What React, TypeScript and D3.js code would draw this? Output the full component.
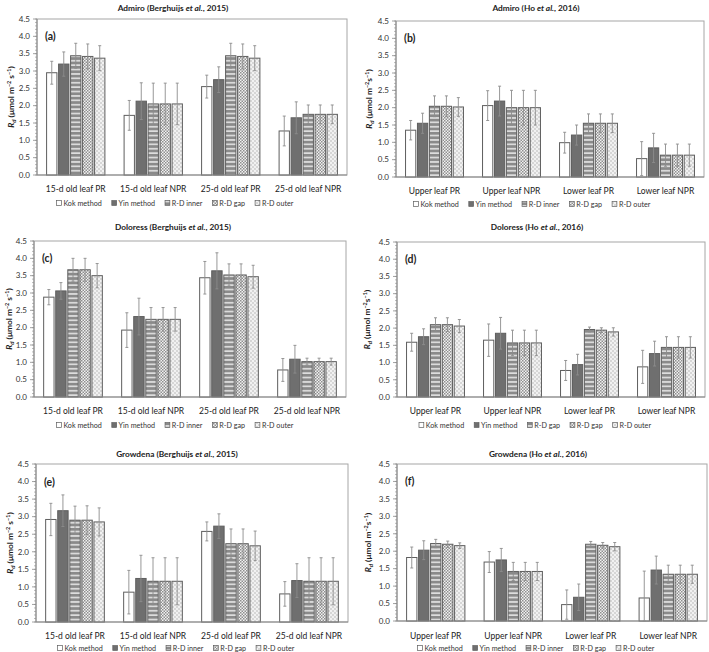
import React from 'react';
import * as d3 from 'd3';

const SERIES_STD = ['Kok method', 'Yin method', 'R-D inner', 'R-D gap', 'R-D outer'];
const SERIES_D = ['Kok method', 'Yin method', 'R-D gap', 'R-D gap', 'R-D outer'];
const CATS_BERG = ['15-d old leaf PR', '15-d old leaf NPR', '25-d old leaf PR', '25-d old leaf NPR'];
const CATS_HO = ['Upper leaf PR', 'Upper leaf NPR', 'Lower leaf PR', 'Lower leaf NPR'];
const Y_TICKS = [0, 0.5, 1, 1.5, 2, 2.5, 3, 3.5, 4, 4.5];

// means[series][category], errs[series][category]
const meansA = [
  [2.95, 1.72, 2.55, 1.27],
  [3.2, 2.13, 2.75, 1.65],
  [3.44, 2.05, 3.44, 1.75],
  [3.42, 2.05, 3.42, 1.75],
  [3.37, 2.05, 3.37, 1.75],
];
const errsA = [
  [0.33, 0.43, 0.33, 0.43],
  [0.35, 0.53, 0.37, 0.46],
  [0.36, 0.6, 0.36, 0.27],
  [0.36, 0.6, 0.36, 0.27],
  [0.36, 0.6, 0.36, 0.27],
];
const meansB = [
  [1.35, 2.06, 0.99, 0.53],
  [1.55, 2.19, 1.21, 0.84],
  [2.04, 2.0, 1.55, 0.63],
  [2.04, 2.0, 1.55, 0.63],
  [2.02, 2.0, 1.55, 0.63],
];
const errsB = [
  [0.28, 0.43, 0.3, 0.49],
  [0.29, 0.43, 0.29, 0.42],
  [0.3, 0.5, 0.27, 0.32],
  [0.3, 0.5, 0.27, 0.32],
  [0.27, 0.5, 0.27, 0.32],
];
const meansC = [
  [2.88, 1.93, 3.44, 0.78],
  [3.06, 2.32, 3.64, 1.09],
  [3.67, 2.24, 3.52, 1.02],
  [3.67, 2.24, 3.52, 1.02],
  [3.5, 2.24, 3.47, 1.02],
];
const errsC = [
  [0.22, 0.5, 0.47, 0.33],
  [0.24, 0.53, 0.52, 0.4],
  [0.33, 0.34, 0.32, 0.1],
  [0.33, 0.34, 0.32, 0.1],
  [0.35, 0.34, 0.33, 0.1],
];
const meansD = [
  [1.59, 1.65, 0.77, 0.875],
  [1.75, 1.85, 0.94, 1.26],
  [2.1, 1.57, 1.96, 1.44],
  [2.1, 1.57, 1.94, 1.44],
  [2.06, 1.57, 1.89, 1.44],
];
const errsD = [
  [0.26, 0.47, 0.29, 0.48],
  [0.23, 0.46, 0.3, 0.36],
  [0.2, 0.37, 0.07, 0.31],
  [0.2, 0.37, 0.07, 0.31],
  [0.19, 0.37, 0.12, 0.31],
];
const meansE = [
  [2.92, 0.85, 2.58, 0.8],
  [3.17, 1.24, 2.73, 1.18],
  [2.9, 1.16, 2.23, 1.16],
  [2.9, 1.16, 2.23, 1.16],
  [2.85, 1.16, 2.17, 1.16],
];
const errsE = [
  [0.46, 0.62, 0.27, 0.35],
  [0.45, 0.66, 0.35, 0.48],
  [0.4, 0.67, 0.42, 0.67],
  [0.41, 0.67, 0.42, 0.67],
  [0.4, 0.67, 0.42, 0.67],
];
const meansF = [
  [1.82, 1.69, 0.47, 0.66],
  [2.03, 1.75, 0.68, 1.46],
  [2.22, 1.42, 2.2, 1.34],
  [2.2, 1.42, 2.17, 1.34],
  [2.16, 1.42, 2.13, 1.34],
];
const errsF = [
  [0.3, 0.3, 0.42, 0.77],
  [0.27, 0.33, 0.38, 0.4],
  [0.12, 0.26, 0.08, 0.26],
  [0.09, 0.26, 0.08, 0.26],
  [0.08, 0.26, 0.12, 0.26],
];

const FONT = 'Lato, "Open Sans", sans-serif';
const FILLS = ['#ffffff', '#6f6f6f', 'url(#pInner)', 'url(#pGap)', 'url(#pOuter)'];
const LEG_FS = 7.2;

let measureCtx: CanvasRenderingContext2D | null = null;
function textW(s: string, fs: number): number {
  if (!measureCtx && typeof document !== 'undefined') {
    measureCtx = document.createElement('canvas').getContext('2d');
  }
  if (measureCtx) {
    measureCtx.font = `${fs}px Lato`;
    return measureCtx.measureText(s).width;
  }
  return s.length * fs * 0.5;
}

type PanelCfg = {
  label: string;
  cultivar: string;
  source: string;
  year: string;
  cats: string[];
  series: string[];
  means: number[][];
  errs: number[][];
  x0: number; x1: number; yTop: number; yBot: number;
  titleX: number; titleY: number; catY: number; legY: number; legX: number; ylabX: number;
  unitSpace: boolean;
};

const PANELS: PanelCfg[] = [
  { label: '(a)', cultivar: 'Admiro', source: 'Berghuijs', year: '2015', cats: CATS_BERG, series: SERIES_STD, means: meansA, errs: errsA,
    x0: 37, x1: 347, yTop: 19, yBot: 175, titleX: 173, titleY: 11, catY: 189, legY: 203, legX: 175, ylabX: 14, unitSpace: true },
  { label: '(b)', cultivar: 'Admiro', source: 'Ho', year: '2016', cats: CATS_HO, series: SERIES_STD, means: meansB, errs: errsB,
    x0: 396, x1: 704, yTop: 21, yBot: 177, titleX: 536, titleY: 11, catY: 191, legY: 204, legX: 532, ylabX: 372, unitSpace: false },
  { label: '(c)', cultivar: 'Doloress', source: 'Berghuijs', year: '2015', cats: CATS_BERG, series: SERIES_STD, means: meansC, errs: errsC,
    x0: 34, x1: 346, yTop: 241, yBot: 397, titleX: 173, titleY: 230, catY: 411, legY: 425, legX: 175, ylabX: 12, unitSpace: true },
  { label: '(d)', cultivar: 'Doloress', source: 'Ho', year: '2016', cats: CATS_HO, series: SERIES_D, means: meansD, errs: errsD,
    x0: 397, x1: 705, yTop: 242, yBot: 397, titleX: 537, titleY: 230, catY: 411, legY: 425, legX: 535, ylabX: 370, unitSpace: false },
  { label: '(e)', cultivar: 'Growdena', source: 'Berghuijs', year: '2015', cats: CATS_BERG, series: SERIES_STD, means: meansE, errs: errsE,
    x0: 36, x1: 348, yTop: 464, yBot: 622, titleX: 177, titleY: 457, catY: 636, legY: 648, legX: 176, ylabX: 13, unitSpace: true },
  { label: '(f)', cultivar: 'Growdena', source: 'Ho', year: '2016', cats: CATS_HO, series: SERIES_STD, means: meansF, errs: errsF,
    x0: 397, x1: 707, yTop: 464, yBot: 621, titleX: 538, titleY: 457, catY: 636, legY: 648, legX: 536, ylabX: 371, unitSpace: false },
];

function Panel({ p }: { p: PanelCfg }) {
  const y = d3.scaleLinear().domain([0, 4.5]).range([p.yBot, p.yTop]);
  const x = d3.scaleBand<string>().domain(p.cats).range([p.x0, p.x1]).paddingInner(0).paddingOuter(0);
  const xi = d3.scaleBand<number>().domain(d3.range(p.series.length)).range([0, x.bandwidth()]).paddingInner(0.14).paddingOuter(0.8);
  const minor = d3.range(0, 4.5001, 0.1);
  const axisCol = '#8a8a8a';
  const sw = 4.8;
  const widths = p.series.map((s) => sw + 2 + textW(s, LEG_FS) + 10);
  const total = d3.sum(widths) - 10;
  let lx = p.legX - total / 2;
  const legPos = widths.map((w) => { const v = lx; lx += w; return v; });
  const ymid = (p.yTop + p.yBot) / 2;
  return (
    <g>
      <text x={p.titleX} y={p.titleY} textAnchor="middle" fontSize={8.3} fontWeight={700} fontFamily={FONT} fill="#222">
        {p.cultivar} ({p.source} <tspan fontStyle="italic">et al.</tspan>, {p.year})
      </text>
      <rect x={p.x0} y={p.yTop} width={p.x1 - p.x0} height={p.yBot - p.yTop} fill="none" stroke="#a6a6a6" strokeWidth={1} />
      {minor.map((v, i) => (
        <line key={'mi' + i} x1={p.x0 - 2} x2={p.x0} y1={y(v)} y2={y(v)} stroke={axisCol} strokeWidth={0.6} />
      ))}
      {Y_TICKS.map((v) => (
        <g key={'t' + v}>
          <line x1={p.x0 - 4} x2={p.x0} y1={y(v)} y2={y(v)} stroke={axisCol} strokeWidth={0.8} />
          <text x={p.x0 - 7} y={y(v)} dy="0.35em" textAnchor="end" fontSize={8} fontFamily={FONT} fill="#333">
            {v.toFixed(1)}
          </text>
        </g>
      ))}
      <line x1={p.x0} x2={p.x0} y1={p.yTop} y2={p.yBot} stroke={axisCol} strokeWidth={1} />
      <text transform={`translate(${p.ylabX},${ymid}) rotate(-90)`} textAnchor="middle" fontSize={8.4} fontWeight={700} fontFamily={FONT} fill="#222">
        <tspan fontStyle="italic">R</tspan>
        <tspan fontStyle="italic" fontSize={6} dy={1.8}>d</tspan>
        <tspan dy={-1.8}> (μmol m</tspan>
        <tspan fontSize={5.5} dy={-3.2}>−2</tspan>
        <tspan dy={3.2}>{p.unitSpace ? ' s' : 's'}</tspan>
        <tspan fontSize={5.5} dy={-3.2}>−1</tspan>
        <tspan dy={3.2}>)</tspan>
      </text>
      <text x={p.x0 + 8} y={y(4.0) + 4} fontSize={10.5} fontWeight={700} fontFamily={FONT} fill="#222">{p.label}</text>
      {p.cats.map((c, ci) => (
        <g key={c}>
          {p.series.map((s, si) => {
            const v = p.means[si][ci];
            const e = p.errs[si][ci];
            const bx = (x(c) as number) + (xi(si) as number);
            const bw = xi.bandwidth();
            const cx = bx + bw / 2;
            const lo = Math.max(0, v - e);
            return (
              <g key={si}>
                <rect x={bx} y={y(v)} width={bw} height={y(0) - y(v)} fill={FILLS[si]} stroke="#5e5e5e" strokeWidth={1} />
                <line x1={cx} x2={cx} y1={y(v + e)} y2={y(lo)} stroke="#8c8c8c" strokeWidth={0.9} />
                <line x1={cx - 1.5} x2={cx + 1.5} y1={y(v + e)} y2={y(v + e)} stroke="#8c8c8c" strokeWidth={0.9} />
                <line x1={cx - 1.5} x2={cx + 1.5} y1={y(lo)} y2={y(lo)} stroke="#8c8c8c" strokeWidth={0.9} />
              </g>
            );
          })}
          <text x={(x(c) as number) + x.bandwidth() / 2} y={p.catY} dy="0.35em" textAnchor="middle" fontSize={8.5} fontFamily={FONT} fill="#222">
            {c}
          </text>
        </g>
      ))}
      <line x1={p.x0} x2={p.x1} y1={p.yBot} y2={p.yBot} stroke="#8a8a8a" strokeWidth={1.2} />
      {p.series.map((s, si) => (
        <g key={'l' + si}>
          <rect x={legPos[si]} y={p.legY - sw / 2} width={sw} height={sw} fill={FILLS[si]} stroke="#5e5e5e" strokeWidth={0.7} />
          <text x={legPos[si] + sw + 2} y={p.legY} dy="0.35em" fontSize={LEG_FS} fontFamily={FONT} fill="#333">{s}</text>
        </g>
      ))}
    </g>
  );
}

export default function App() {
  return (
    <svg width={709} height={652} viewBox="0 0 709 652" style={{ display: 'block', position: 'absolute', left: 0, top: 0, background: '#fff' }}>
      <defs>
        <pattern id="pInner" patternUnits="userSpaceOnUse" width={4} height={4.4}>
          <rect width={4} height={4.4} fill="#8a8a8a" />
          <rect y={2.8} width={4} height={1.5} fill="#e8e8e8" />
        </pattern>
        <pattern id="pGap" patternUnits="userSpaceOnUse" width={3} height={3}>
          <rect width={3} height={3} fill="#f2f2f2" />
          <rect x={0} y={0} width={1.5} height={1.5} fill="#8f8f8f" />
          <rect x={1.5} y={1.5} width={1.5} height={1.5} fill="#8f8f8f" />
        </pattern>
        <pattern id="pOuter" patternUnits="userSpaceOnUse" width={4} height={4}>
          <rect width={4} height={4} fill="#d6d6d6" />
          <circle cx={1} cy={1} r={0.9} fill="#ffffff" />
          <circle cx={3} cy={3} r={0.9} fill="#ffffff" />
        </pattern>
      </defs>
      <rect width={709} height={652} fill="#fff" />
      {PANELS.map((p) => (
        <Panel key={p.label} p={p} />
      ))}
    </svg>
  );
}
